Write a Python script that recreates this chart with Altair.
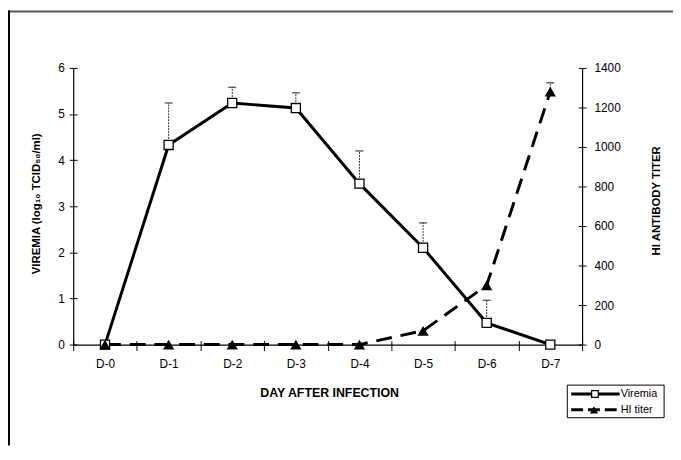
import altair as alt
import pandas as pd

# ---- data ----
days = ["D-0", "D-1", "D-2", "D-3", "D-4", "D-5", "D-6", "D-7"]
viremia = [0, 4.33, 5.24, 5.13, 3.49, 2.10, 0.47, 0]
viremia_sd = [None, 0.91, 0.34, 0.33, 0.71, 0.54, 0.49, None]
hi_titer = [0, 0, 0, 0, 0, 70, 300, 1280]
hi_sd = [None, None, None, None, None, None, None, 45]
left_ticks = [0, 1, 2, 3, 4, 5, 6]
right_ticks = [0, 200, 400, 600, 800, 1000, 1200, 1400]
series_names = ["Viremia", "HI titer"]

df = pd.DataFrame({"day": days, "viremia": viremia, "vsd": viremia_sd,
                   "hi": hi_titer, "hsd": hi_sd})
df["vup"] = df["viremia"] + df["vsd"]
df["hup"] = df["hi"] + df["hsd"]
verr = df[df["vsd"].notna()]
herr = df[df["hsd"].notna()]
one = pd.DataFrame({"k": [0]})

FONT = "Liberation Sans"
W, H = 515, 280

xscale = alt.Scale(type="band", domain=days, paddingInner=0, paddingOuter=0)
yv = alt.Scale(domain=[0, 6], nice=False, zero=True)
yh = alt.Scale(domain=[0, 1400], nice=False, zero=True)

def xenc(axis=None):
    return alt.X("day:N", scale=xscale, axis=axis)

x_main_axis = alt.Axis(orient="bottom", title="DAY AFTER INFECTION", tickBand="extent", tickSize=6,
                       tickColor="black", domainColor="black", domainWidth=1.2,
                       labelAngle=0, labelFont=FONT, labelFontSize=12, labelColor="black",
                       labelPadding=8, titleFont=FONT, titleFontSize=12.5,
                       titleFontWeight="bold", titleColor="black", titleX=259, titleY=49,
                       titleAlign="center", titleBaseline="middle", grid=False)
x_help_axis = alt.Axis(orient="bottom", title="", tickBand="extent", tickSize=4, offset=-4,
                       tickColor="black", domain=False, labels=False, grid=False)

y_left_axis = alt.Axis(orient="left", title="VIREMIA (log\u2081\u2080 TCID\u2085\u2080/ml)", values=left_ticks,
                       tickSize=4, tickColor="black", domainColor="black", domainWidth=1.2,
                       labelFont=FONT, labelFontSize=12, labelColor="black", labelPadding=5,
                       titleFont=FONT, titleFontSize=11.5, titleFontWeight="bold",
                       titleColor="black", titleAngle=270, titleX=-37, titleY=137,
                       titleAlign="center", titleBaseline="middle", grid=False)
y_left_help = alt.Axis(orient="left", title="", values=left_ticks, tickSize=4, offset=-4,
                       tickColor="black", domain=False, labels=False, grid=False)

y_right_axis = alt.Axis(orient="right", title="HI ANTIBODY TITER", values=right_ticks, format="d",
                        tickSize=4, tickColor="black", domainColor="black", domainWidth=1.2,
                        labelFont=FONT, labelFontSize=12, labelColor="black", labelPadding=8,
                        titleFont=FONT, titleFontSize=11.5, titleFontWeight="bold",
                        titleColor="black", titleAngle=270, titleX=75, titleY=134,
                        titleAlign="center", titleBaseline="middle", grid=False)
y_right_help = alt.Axis(orient="right", title="", values=right_ticks, tickSize=4, offset=-4,
                        tickColor="black", domain=False, labels=False, grid=False)

# ---- viremia ----
v_err = alt.Chart(verr).mark_rule(color="#333", strokeWidth=1, strokeDash=[2, 1]).encode(
    x=xenc(), y=alt.Y("viremia:Q", scale=yv, axis=None), y2="vup:Q")
v_cap = alt.Chart(verr).mark_tick(color="#222", size=8, thickness=1.5, orient="horizontal").encode(
    x=xenc(), y=alt.Y("vup:Q", scale=yv, axis=None))
v_line = alt.Chart(df).mark_line(color="black", strokeWidth=3).encode(
    x=xenc(x_main_axis), y=alt.Y("viremia:Q", scale=yv, axis=y_left_axis))
v_pts = alt.Chart(df).mark_point(shape="square", size=85, filled=True, fill="white",
                                 stroke="black", strokeWidth=1.3, opacity=1).encode(
    x=xenc(), y=alt.Y("viremia:Q", scale=yv, axis=None))
v_help = alt.Chart(df).mark_point(opacity=0).encode(
    x=xenc(x_help_axis), y=alt.Y("viremia:Q", scale=yv, axis=y_left_help))

# ---- HI titer ----
h_line = alt.Chart(df).mark_line(color="black", strokeWidth=3, strokeDash=[16, 9]).encode(
    x=xenc(), y=alt.Y("hi:Q", scale=yh, axis=y_right_axis))
h_err = alt.Chart(herr).mark_rule(color="#333", strokeWidth=1, strokeDash=[2, 1]).encode(
    x=xenc(), y=alt.Y("hi:Q", scale=yh, axis=None), y2="hup:Q")
h_cap = alt.Chart(herr).mark_tick(color="#222", size=8, thickness=1.5, orient="horizontal").encode(
    x=xenc(), y=alt.Y("hup:Q", scale=yh, axis=None))
h_pts = alt.Chart(df).mark_point(shape="triangle-up", size=130, filled=True, color="black",
                                 opacity=1).encode(
    x=xenc(), y=alt.Y("hi:Q", scale=yh, axis=None))
h_help = alt.Chart(df).mark_point(opacity=0).encode(
    x=xenc(), y=alt.Y("hi:Q", scale=yh, axis=y_right_help))

# ---- outer frame ----
frame_top = alt.Chart(one).mark_rule(color="#555", strokeWidth=2).encode(
    x=alt.value(-66), x2=alt.value(W + 92), y=alt.value(-57))
frame_left = alt.Chart(one).mark_rule(color="black", strokeWidth=2).encode(
    x=alt.value(-65), y=alt.value(-58), y2=alt.value(H + 102))

# ---- legend ----
lg_box = alt.Chart(one).mark_rect(fill="white", stroke="black", strokeWidth=1).encode(
    x=alt.value(500), x2=alt.value(598), y=alt.value(321), y2=alt.value(354))
r1, r2 = 330, 346
lg_l1 = alt.Chart(one).mark_rule(color="black", strokeWidth=3).encode(
    x=alt.value(504), x2=alt.value(553), y=alt.value(r1))
lg_m1 = alt.Chart(one).mark_point(shape="square", size=45, filled=True, fill="white",
                                  stroke="black", strokeWidth=1.2, opacity=1).encode(
    x=alt.value(528), y=alt.value(r1))
lg_t1 = alt.Chart(one).mark_text(text=series_names[0], align="left", baseline="middle",
                                 font=FONT, fontSize=11, color="black").encode(
    x=alt.value(554), y=alt.value(r1))
lg_l2 = alt.Chart(one).mark_rule(color="black", strokeWidth=3, strokeDash=[12, 5]).encode(
    x=alt.value(504), x2=alt.value(553), y=alt.value(r2))
lg_m2 = alt.Chart(one).mark_point(shape="triangle-up", size=70, filled=True, color="black",
                                  opacity=1).encode(
    x=alt.value(527), y=alt.value(r2))
lg_t2 = alt.Chart(one).mark_text(text=series_names[1], align="left", baseline="middle",
                                 font=FONT, fontSize=11, color="black").encode(
    x=alt.value(554), y=alt.value(r2))

chart = alt.layer(
    frame_top, frame_left,
    v_help, h_help,
    v_err, v_cap, h_err, h_cap,
    h_line, v_line, v_pts, h_pts,
    lg_box, lg_l1, lg_m1, lg_t1, lg_l2, lg_m2, lg_t2,
).resolve_scale(y="independent").resolve_axis(x="independent", y="independent").properties(
    width=W, height=H, autosize="none",
    padding={"left": 66, "top": 58, "right": 92, "bottom": 102},
    background="white",
).configure_view(strokeOpacity=0)

chart.save("out.html", embed_options={"renderer": "svg", "actions": False})
